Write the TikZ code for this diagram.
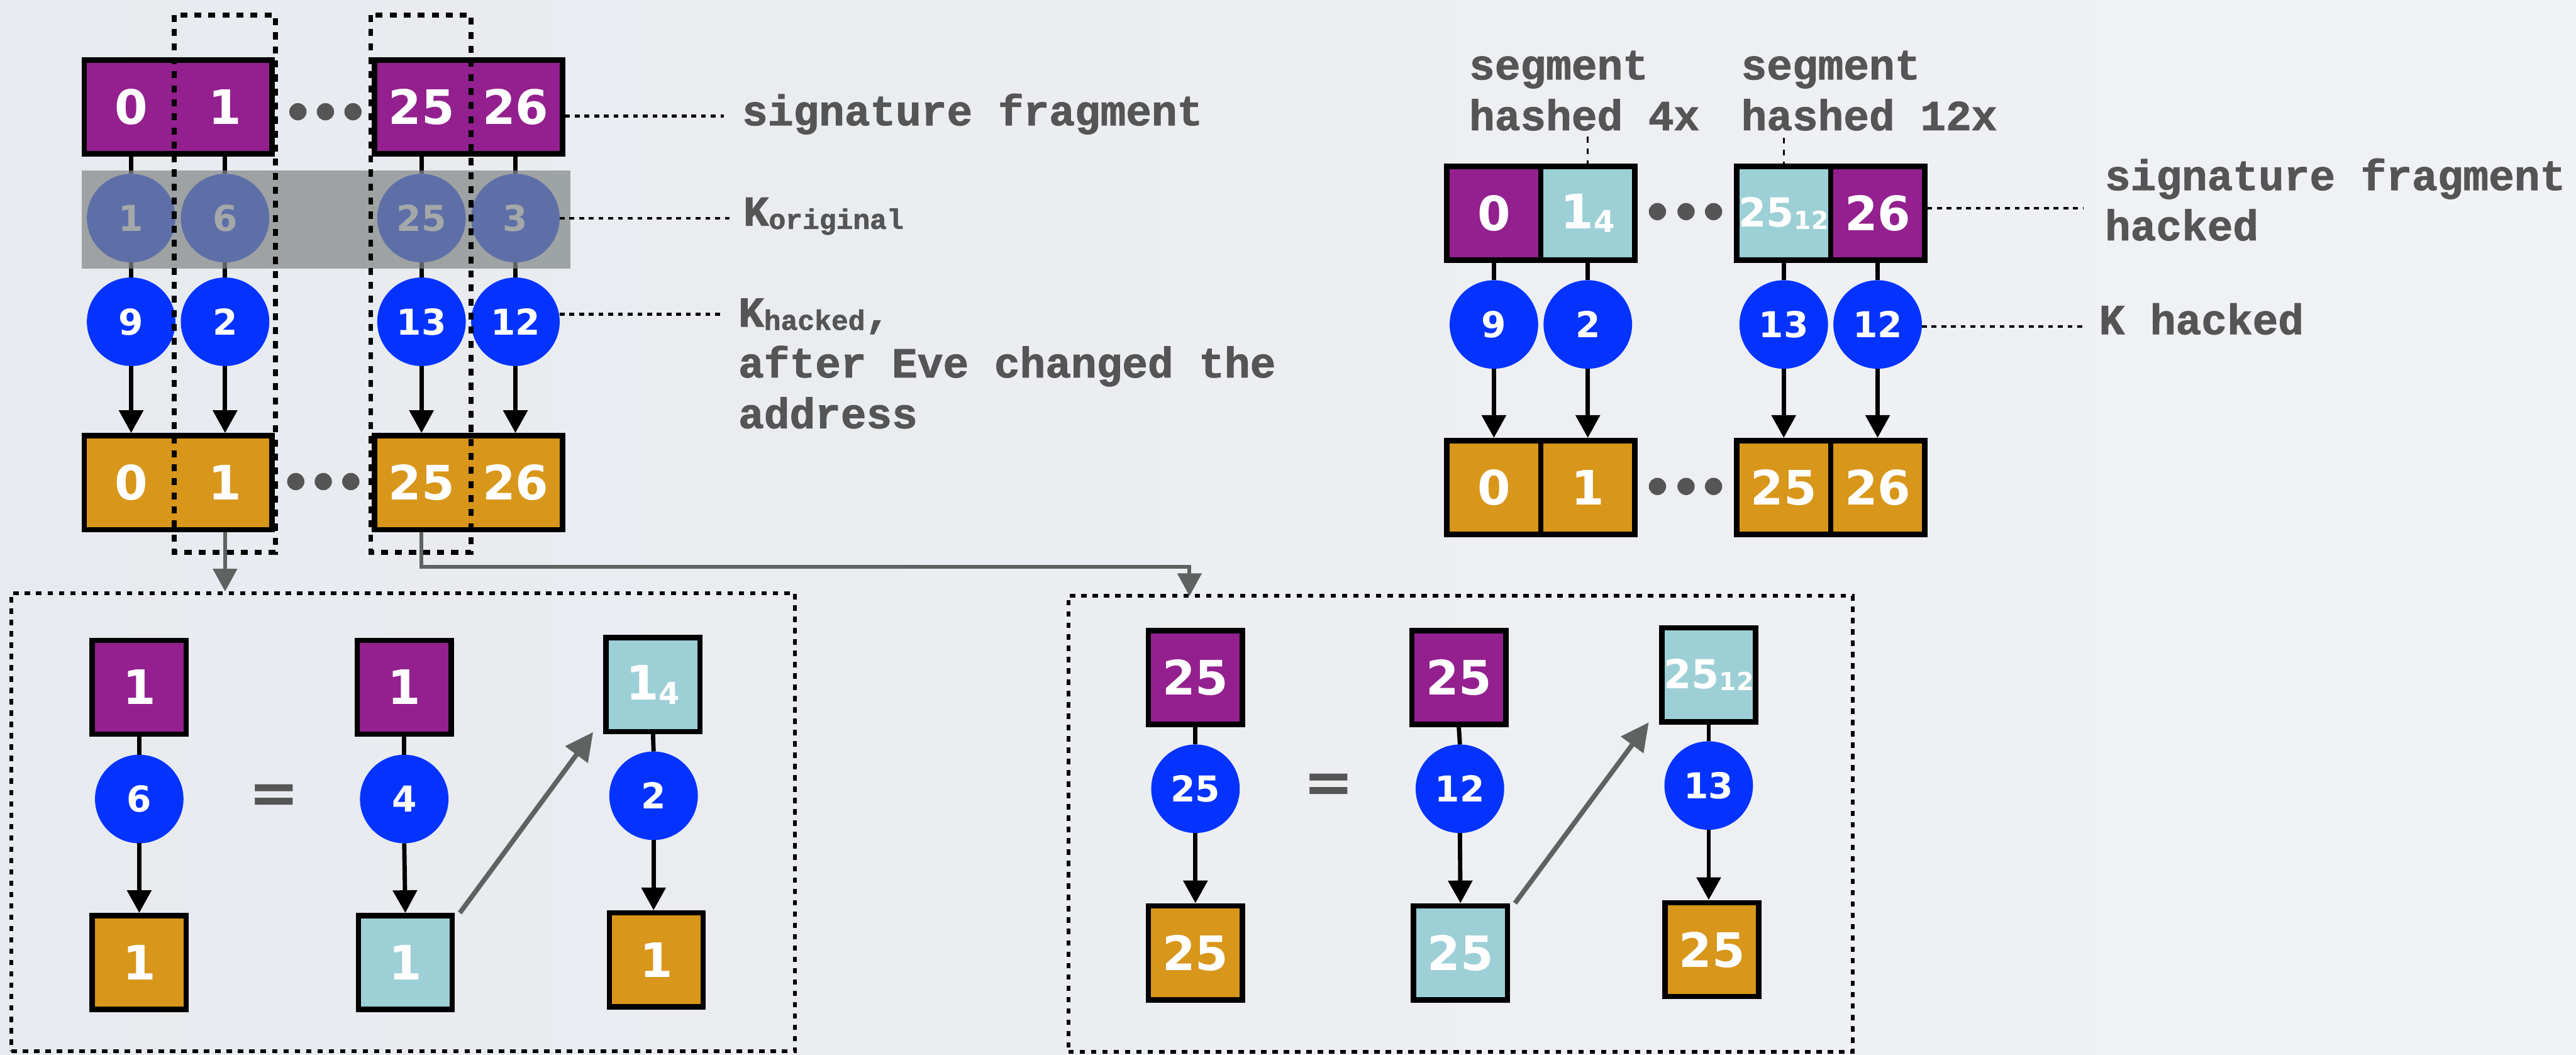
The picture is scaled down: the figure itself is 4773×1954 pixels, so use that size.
\documentclass[tikz,border=0pt]{standalone}
\usepackage{fontspec}
\usetikzlibrary{arrows.meta,calc}
\newfontfamily\numf{DejaVu Sans}
\newfontfamily\labf{Liberation Mono}[BoldFeatures={FakeBold=1.5}]
\definecolor{bgL}{HTML}{E7EAEE}
\definecolor{bgR}{HTML}{F1F2F5}
\definecolor{sigpurple}{HTML}{93208E}
\definecolor{keyorange}{HTML}{D8961A}
\definecolor{hackteal}{HTML}{9DCFD6}
\definecolor{kblue}{HTML}{0433FF}
\definecolor{txtgray}{HTML}{555555}
\definecolor{arrgray}{HTML}{5E6260}
\definecolor{bandgray}{RGB}{130,135,135}
\tikzset{
  cellbox/.style={rectangle, minimum width=174pt, minimum height=174pt, inner sep=0pt,
    outer sep=5pt, draw=black, line width=10pt, text=white,
    font=\numf\bfseries\fontsize{88}{88}\selectfont},
  sigcell/.style={cellbox, fill=sigpurple},
  keycell/.style={cellbox, fill=keyorange},
  hackcell/.style={cellbox, fill=hackteal},
  kcirc/.style={circle, minimum size=164pt, inner sep=0pt, outer sep=0pt, fill=kblue,
    text=white, font=\numf\bfseries\fontsize{66}{66}\selectfont},
  link/.style={draw=black, line width=8pt},
  hasharrow/.style={draw=black, line width=8pt, -{Triangle[width=44pt,length=42pt]}},
  entryarrow/.style={draw=arrgray, line width=7pt, -{Triangle[width=44pt,length=42pt]}},
  hackarrow/.style={draw=arrgray, line width=9pt, -{Triangle[width=50pt,length=52pt]}},
  leader/.style={draw=black, line width=5pt, dash pattern=on 9pt off 9pt},
  shortdash/.style={draw=black, line width=4pt, dash pattern=on 11pt off 11pt},
  selbox/.style={draw=black, line width=9pt, dash pattern=on 13pt off 13pt},
  panel/.style={rectangle, draw=black, line width=7pt, dash pattern=on 10pt off 11pt, inner sep=0pt},
  labtext/.style={font=\labf\bfseries\fontsize{79}{94}\selectfont, text=txtgray, inner sep=0pt, anchor=base west},
  eqsign/.style={font=\numf\bfseries\fontsize{112}{112}\selectfont, text=txtgray, inner sep=0pt},
  dot/.style={fill=txtgray}
}
\begin{document}
\begin{tikzpicture}[x=1pt,y=-1pt]
\useasboundingbox (0,0) rectangle (4773,1954);
\fill[left color=bgL, right color=bgR] (0,0) rectangle (4773,1954);

% ---------------- top-left diagram ----------------
\node[sigcell,draw=none] (p0) at (243,198) {0};
\node[sigcell,draw=none] (p1) at (417,198) {1};
\node[sigcell,draw=none] (p25) at (781,198) {25};
\node[sigcell,draw=none] (p26) at (955,198) {26};
\node[kcirc] (f0) at (243,404) {1};
\node[kcirc] (f1) at (417,404) {6};
\node[kcirc] (f25) at (781,404) {25};
\node[kcirc] (f26) at (955,404) {3};
\node[kcirc] (b0) at (243,596) {9};
\node[kcirc] (b1) at (417,596) {2};
\node[kcirc] (b25) at (781,596) {13};
\node[kcirc] (b26) at (955,596) {12};
\node[keycell,draw=none] (o0) at (243,894) {0};
\node[keycell,draw=none] (o1) at (417,894) {1};
\node[keycell,draw=none] (o25) at (781,894) {25};
\node[keycell,draw=none] (o26) at (955,894) {26};
\foreach \i in {0,1,25,26}{
  \draw[link] (p\i.south) -- (f\i.north);
  \draw[link] (f\i.south) -- (b\i.north);
  \draw[hasharrow] (b\i.south) -- (o\i.north);
}
\fill[bandgray, fill opacity=0.72] (151,316) rectangle (1057,498);
\draw[line width=10pt] ($(p0.north west)+(5,5)$) rectangle ($(p1.south east)+(-5,-5)$);
\draw[line width=10pt] ($(p25.north west)+(5,5)$) rectangle ($(p26.south east)+(-5,-5)$);
\draw[line width=10pt] ($(o0.north west)+(5,5)$) rectangle ($(o1.south east)+(-5,-5)$);
\draw[line width=10pt] ($(o25.north west)+(5,5)$) rectangle ($(o26.south east)+(-5,-5)$);
\foreach \x in {552,603,654}{
  \fill[dot] (\x,207) circle (16);
  \fill[dot] (\x-4,892) circle (16);
}
\draw[selbox] (323,28) rectangle (510,1023);
\draw[selbox] (687,28) rectangle (873,1023);

% labels top-left
\coordinate (l1e) at (1341,215);
\coordinate (l2e) at (1354,404);
\coordinate (l3e) at (1337,582);
\draw[leader] (l1e -| p26.east) -- (l1e);
\draw[leader] (f26.east) -- (l2e);
\draw[leader] (l3e -| b26.east) -- (l3e);
\node[labtext] (t1) at (1375,232) {signature fragment};
\node[labtext] (t2) at (1377,418) {K\raisebox{-6pt}{\fontsize{52}{52}\selectfont original}};
\node[labtext] (t3) at (1368,605) {K\raisebox{-6pt}{\fontsize{52}{52}\selectfont hacked},};
\node[labtext] (t4) at (1368,699) {after Eve changed the};
\node[labtext] (t5) at (1368,793) {address};

% ---------------- top-right diagram ----------------
\node[sigcell] (r0) at (2768,395) {0};
\node[hackcell] (r1) at (2942,395) {1\raisebox{-8pt}{\fontsize{56}{56}\selectfont 4}};
\node[hackcell] (r25) at (3305,395) {\fontsize{74}{74}\selectfont 25\raisebox{-4pt}{\fontsize{46}{46}\selectfont 12}};
\node[sigcell] (r26) at (3479,395) {26};
\node[kcirc] (rb0) at (2768,601) {9};
\node[kcirc] (rb1) at (2942,601) {2};
\node[kcirc] (rb25) at (3305,601) {13};
\node[kcirc] (rb26) at (3479,601) {12};
\node[keycell] (q0) at (2768,903) {0};
\node[keycell] (q1) at (2942,903) {1};
\node[keycell] (q25) at (3305,903) {25};
\node[keycell] (q26) at (3479,903) {26};
\foreach \i in {0,1,25,26}{
  \draw[link] (r\i.south) -- (rb\i.north);
  \draw[hasharrow] (rb\i.south) -- (q\i.north);
}
\foreach \x in {3071,3124,3175}{
  \fill[dot] (\x,392) circle (16);
  \fill[dot] (\x,901) circle (16);
}
\node[labtext] (s1) at (2722,147) {segment};
\node[labtext] (s2) at (2722,241) {hashed 4x};
\node[labtext] (s3) at (3226,147) {segment};
\node[labtext] (s4) at (3226,241) {hashed 12x};
\coordinate (d1) at (2942,253);
\coordinate (d2) at (3305,255);
\draw[shortdash] (d1) -- (r1.north);
\draw[shortdash] (d2) -- (r25.north);
\coordinate (l4e) at (3861,386);
\coordinate (l5e) at (3860,605);
\draw[leader] (l4e -| r26.east) -- (l4e);
\draw[leader] (l5e -| rb26.east) -- (l5e);
\node[labtext] (u1) at (3900,352) {signature fragment};
\node[labtext] (u2) at (3900,445) {hacked};
\node[labtext] (u3) at (3889,619) {K hacked};

% ---------------- bottom-left panel ----------------
\node[panel, minimum width=1452pt, minimum height=848pt] (panelL) at (747,1523) {};
\draw[entryarrow] (o1.south) -- (o1.south |- panelL.north);
\node[sigcell] (A1) at (258,1273) {1};
\node[kcirc] (A2) at (258,1480) {6};
\node[keycell] (A3) at (258,1783) {1};
\node[eqsign] (eqL) at (508,1480) {=};
\node[sigcell] (B1) at (749,1273) {1};
\node[kcirc] (B2) at (749,1480) {4};
\node[hackcell] (B3) at (751,1783) {1};
\node[hackcell] (C1) at (1210,1268) {1\raisebox{-8pt}{\fontsize{56}{56}\selectfont 4}};
\node[kcirc] (C2) at (1211,1474) {2};
\node[keycell] (C3) at (1216,1778) {1};
\draw[link] (A1.south) -- (A2.north);
\draw[hasharrow] (A2.south) -- (A3.north);
\draw[link] (B1.south) -- (B2.north);
\draw[hasharrow] (B2.south) -- (B3.north);
\draw[link] (C1.south) -- (C2.north);
\draw[hasharrow] (C2.south) -- (C2.south |- C3.north);
\draw[hackarrow] ($(B3.north east)+(9,0)$) -- ($(C1.south west)+(-19,-4)$);

% ---------------- bottom-right panel ----------------
\node[panel, minimum width=1453pt, minimum height=845pt] (panelR) at (2706,1526) {};
\coordinate (entR) at (2204,1104);
\draw[entryarrow] (o25.south) -- (o25.south |- 0,1050) -| (entR);
\node[sigcell] (D1) at (2215,1255) {25};
\node[kcirc] (D2) at (2215,1461) {25};
\node[keycell] (D3) at (2215,1765) {25};
\node[eqsign] (eqR) at (2462,1461) {=};
\node[sigcell] (E1) at (2703,1255) {25};
\node[kcirc] (E2) at (2705,1461) {12};
\node[hackcell] (E3) at (2706,1765) {25};
\node[hackcell] (F1) at (3166,1250) {\fontsize{74}{74}\selectfont 25\raisebox{-4pt}{\fontsize{46}{46}\selectfont 12}};
\node[kcirc] (F2) at (3166,1455) {13};
\node[keycell] (F3) at (3172,1759) {25};
\draw[link] (D1.south) -- (D2.north);
\draw[hasharrow] (D2.south) -- (D3.north);
\draw[link] (E1.south) -- (E2.north);
\draw[hasharrow] (E2.south) -- (E3.north);
\draw[link] (F1.south) -- (F2.north);
\draw[hasharrow] (F2.south) -- (F2.south |- F3.north);
\draw[hackarrow] ($(E3.north east)+(9,0)$) -- ($(F1.south west)+(-19,-4)$);
\end{tikzpicture}
\end{document}
